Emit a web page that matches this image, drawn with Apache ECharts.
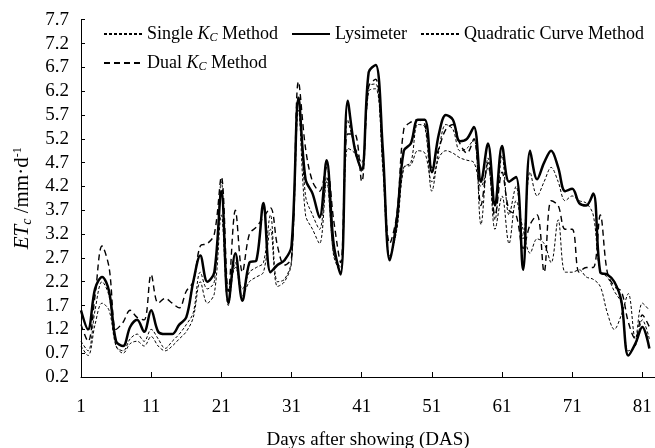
<!DOCTYPE html>
<html><head><meta charset="utf-8">
<script src="https://cdn.jsdelivr.net/npm/echarts@6/dist/echarts.min.js"></script>
<style>html,body{margin:0;padding:0;background:#fff}#c{width:655px;height:448px}</style>
</head><body><div id="c"></div>
<script>
const days = [1,2,3,4,5,6,7,8,9,10,11,12,13,14,15,16,17,18,19,20,21,22,23,24,25,26,27,28,29,30,31,32,33,34,35,36,37,38,39,40,41,42,43,44,45,46,47,48,49,50,51,52,53,54,55,56,57,58,59,60,61,62,63,64,65,66,67,68,69,70,71,72,73,74,75,76,77,78,79,80,81,82];

const singleKc = [0.85,0.65,1.3,1.75,1.6,0.85,0.7,0.9,0.95,0.85,1.05,0.85,0.75,0.85,1.0,1.15,1.45,2.2,1.75,1.95,3.6,1.7,2.6,1.9,2.2,2.3,2.4,3.3,2.1,2.2,2.6,5.8,3.6,3.3,3.0,4.3,2.8,2.5,5.0,4.9,4.5,6.2,6.25,4.7,2.75,3.3,4.6,4.65,4.95,4.9,4.3,4.8,4.95,4.9,4.8,4.75,4.7,4.2,4.6,3.3,4.0,3.0,3.9,3.3,2.8,3.1,3.0,2.6,3.5,2.4,2.4,2.45,2.3,2.25,2.1,1.55,1.2,1.5,1.95,1.0,1.75,1.6];

const lysimeter = [1.6,1.2,2.05,2.3,2.0,0.95,0.85,1.25,1.4,1.15,1.6,1.15,1.1,1.1,1.3,1.45,2.2,2.75,2.2,2.4,4.1,1.75,2.8,1.8,2.6,2.65,3.85,2.4,2.55,2.65,2.95,6.05,4.35,4.05,3.55,4.75,3.0,2.35,6.0,5.0,4.55,6.6,6.75,5.0,2.65,3.5,4.95,5.1,5.6,5.6,4.5,5.3,5.7,5.6,5.15,5.2,5.45,4.3,5.1,3.8,5.05,4.3,4.4,2.45,4.95,4.35,4.7,4.95,4.6,4.1,4.15,3.85,3.8,4.05,2.4,2.35,2.2,1.8,0.65,0.9,1.25,0.8];

const quadratic = [0.95,0.75,1.6,2.2,1.9,0.85,0.75,1.0,1.1,0.95,1.2,1.0,0.8,0.95,1.1,1.3,1.55,2.4,2.05,2.2,4.3,2.0,2.5,2.05,2.4,2.5,2.6,3.6,2.2,2.25,2.65,6.1,4.0,3.6,3.3,4.4,2.75,2.4,5.6,5.05,4.7,6.3,6.35,4.6,2.7,3.3,4.6,4.7,5.5,5.45,4.1,4.95,5.5,5.4,4.95,5.0,5.2,3.4,4.8,3.5,4.85,3.6,4.2,3.1,4.5,4.0,4.3,4.6,4.3,3.9,4.0,3.9,3.85,3.6,2.4,2.3,2.0,1.75,0.75,0.85,1.4,1.0];

const dualKc = [1.3,0.95,1.9,2.95,2.5,1.2,1.35,1.6,1.45,1.4,2.35,1.75,1.85,1.75,1.65,2.0,2.2,2.95,3.0,3.2,4.4,2.0,3.7,2.4,3.2,3.35,3.55,3.75,2.95,2.55,2.7,6.4,5.0,4.3,4.1,4.6,3.5,2.6,5.3,5.3,4.3,6.3,6.45,4.9,3.0,3.6,5.4,5.55,5.6,5.5,4.6,5.0,5.4,5.5,5.1,4.9,5.2,3.8,4.7,3.6,4.5,3.7,3.6,2.9,3.4,3.6,2.4,3.9,3.8,3.3,3.3,2.4,2.5,2.5,3.6,2.4,2.1,2.0,1.35,1.0,1.5,1.25];

const xTickLabels = [1,11,21,31,41,51,61,71,81];
const seriesNames = ['Single Kc Method','Lysimeter','Quadratic Curve Method','Dual Kc Method'];

const FONT = 'Liberation Serif';
const pairs = arr => days.map((d, i) => [d, arr[i]]);

const LF = 18;
const legendRich = {
  n: {fontFamily: FONT, fontSize: LF, color: '#000'},
  i: {fontFamily: FONT, fontSize: LF, fontStyle: 'italic', color: '#000'},
  s: {fontFamily: FONT, fontSize: 12, fontStyle: 'italic', color: '#000', padding: [8,0,0,0]}
};
function legendFmt(name) {
  if (name === 'Single Kc Method') return '{n|Single }{i|K}{s|C}{n| Method}';
  if (name === 'Dual Kc Method') return '{n|Dual }{i|K}{s|C}{n| Method}';
  return '{n|' + name + '}';
}

const chart = echarts.init(document.getElementById('c'), null, {renderer: 'canvas'});
const mk = (name, data, width, type) => ({
  name, type: 'line', data: pairs(data), smooth: 0.35, symbol: 'none',
  lineStyle: {color: '#000', width, type}, itemStyle: {color: '#000'}, z: name === 'Lysimeter' ? 3 : 2
});
const legendCommon = {
  itemWidth: 38, itemHeight: 12, itemGap: 13,
  itemStyle: {opacity: 0},
  formatter: legendFmt, textStyle: {rich: legendRich, fontFamily: FONT, fontSize: LF}
};
chart.setOption({
  animation: false,
  backgroundColor: '#fff',
  textStyle: {fontFamily: FONT, color: '#000'},
  grid: {left: 81, right: 0, top: 19.7, bottom: 71, containLabel: false, outerBoundsMode: 'none'},
  legend: [
    Object.assign({data: [seriesNames[0], seriesNames[1], seriesNames[2]], left: 98, top: 20}, legendCommon),
    Object.assign({data: [seriesNames[3]], left: 98, top: 49}, legendCommon)
  ],
  xAxis: {
    type: 'value', min: 1, max: 82.8,
    name: 'Days after showing (DAS)', nameLocation: 'middle', nameGap: 54,
    nameTextStyle: {fontFamily: FONT, fontSize: 19, color: '#000'},
    axisLine: {lineStyle: {color: '#000', width: 1}},
    axisTick: {inside: true, length: 5, customValues: xTickLabels, lineStyle: {color: '#000'}},
    axisLabel: {customValues: xTickLabels, margin: 21, fontFamily: FONT, fontSize: 19, color: '#000'},
    splitLine: {show: false}
  },
  yAxis: {
    type: 'value', min: 0.2, max: 7.7, interval: 0.5,
    name: '{i|ET}{s|c}{n| /mm·d}{p|-1}', nameLocation: 'middle', nameGap: 44, nameRotate: 90,
    nameTextStyle: {rich: {
      i: {fontFamily: FONT, fontSize: 21, fontStyle: 'italic', color: '#000'},
      s: {fontFamily: FONT, fontSize: 14, fontStyle: 'italic', color: '#000', padding: [9,0,0,0]},
      n: {fontFamily: FONT, fontSize: 21, color: '#000'},
      p: {fontFamily: FONT, fontSize: 12, color: '#000', padding: [0,0,10,0]}
    }},
    axisLine: {show: true, lineStyle: {color: '#000', width: 1}},
    axisTick: {show: true, inside: true, length: 4, lineStyle: {color: '#000'}},
    axisLabel: {margin: 12, fontFamily: FONT, fontSize: 19, color: '#000', formatter: v => v.toFixed(1)},
    splitLine: {show: false}
  },
  series: [
    mk(seriesNames[0], singleKc, 1, [3, 2]),
    mk(seriesNames[1], lysimeter, 2.5, 'solid'),
    mk(seriesNames[2], quadratic, 1, [3, 2]),
    mk(seriesNames[3], dualKc, 1.4, [6, 4])
  ]
});
</script></body></html>
